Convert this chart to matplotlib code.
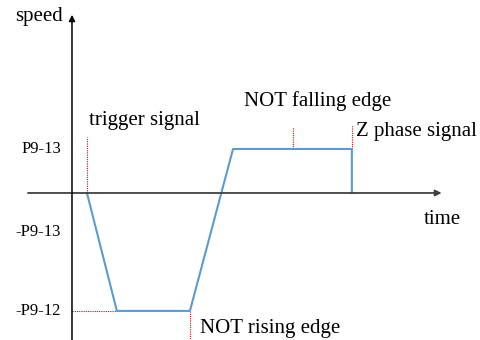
import numpy as np
import matplotlib
matplotlib.use("Agg")
import matplotlib.pyplot as plt

plt.rcParams['font.family'] = ['Liberation Serif', 'DejaVu Serif']

# speed profile (time, speed), speed unit = P9-13
time_pts = [0.34, 1.02, 2.68, 3.66, 6.36, 6.36]
speed_pts = [0.0, -2.68, -2.68, 1.0, 1.0, 0.0]

# speed levels on the y axis
level_names = ['P9-13', '-P9-13', '-P9-12']
level_vals = [1.0, -0.89, -2.68]

# event markers
t_trigger = 0.34
t_rising = 2.68
t_falling = 5.02
t_zphase = 6.36

fig = plt.figure(figsize=(4.81, 3.40), dpi=100)
ax = fig.add_axes([0, 0, 1, 1])
ax.set_xlim(-1.636, 9.295)
ax.set_ylim(-3.341, 4.386)
ax.axis('off')

# axes with arrows
ax.annotate('', xy=(8.4, 0), xytext=(-1.0, 0),
            arrowprops=dict(arrowstyle='-|>', color='#404040', lw=1.3,
                            mutation_scale=9, shrinkA=0, shrinkB=0))
ax.annotate('', xy=(0, 4.05), xytext=(0, -3.4),
            arrowprops=dict(arrowstyle='-|>', color='black', lw=1.1,
                            mutation_scale=9, shrinkA=0, shrinkB=0))

# red dotted guides
red = dict(color='red', ls=(0, (1, 1)), lw=0.8)
ax.plot([t_trigger, t_trigger], [0, 1.27], **red)
ax.plot([0, time_pts[1]], [level_vals[2], level_vals[2]], **red)
ax.plot([t_rising, t_rising], [level_vals[2], -3.4], **red)
ax.plot([t_falling, t_falling], [1.0, 1.5], **red)
ax.plot([t_zphase, t_zphase], [1.0, 1.55], **red)

# speed curve
ax.plot(time_pts, speed_pts, color='#5B9BD5', lw=1.5)

# labels
for name, v in zip(level_names, level_vals):
    ax.text(-0.25, v, name, ha='right', va='center', fontsize=12)
ax.text(-0.2, 4.0, 'speed', ha='right', va='center', fontsize=15)
ax.text(8.42, -0.6, 'time', ha='center', va='center', fontsize=15)
ax.text(0.38, 1.64, 'trigger signal', ha='left', va='center', fontsize=15)
ax.text(3.9, 2.08, 'NOT falling edge', ha='left', va='center', fontsize=15)
ax.text(6.45, 1.39, 'Z phase signal', ha='left', va='center', fontsize=15)
ax.text(2.9, -3.07, 'NOT rising edge', ha='left', va='center', fontsize=15)

fig.savefig('out.png', dpi=100, facecolor='white')
